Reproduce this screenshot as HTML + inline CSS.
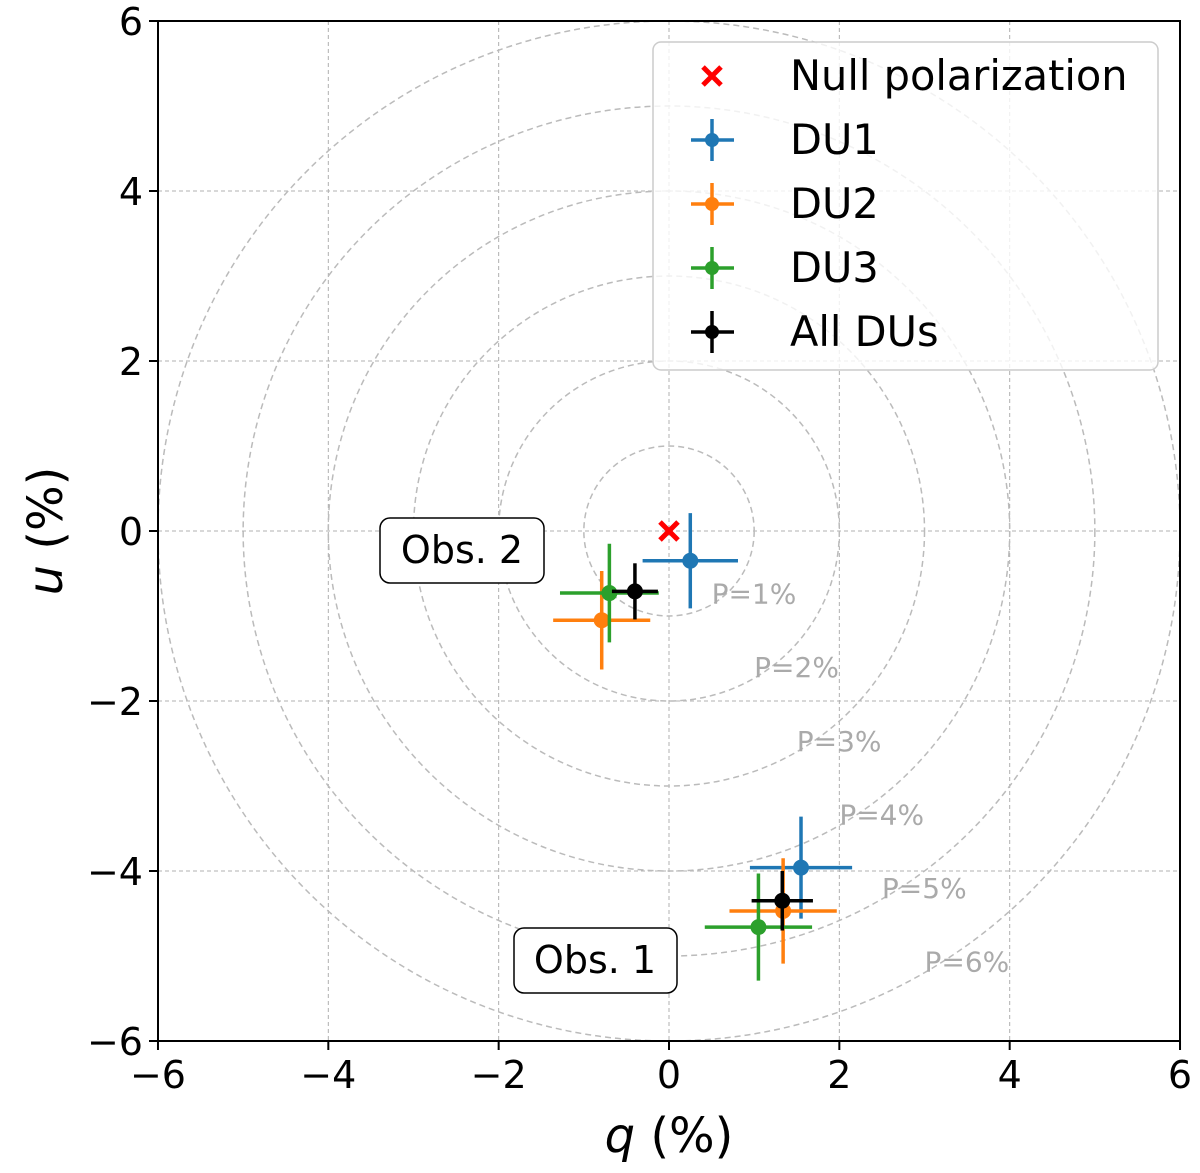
<!DOCTYPE html>
<html><head><meta charset="utf-8"><style>html,body{margin:0;padding:0;background:#fff}svg{display:block}text{font-family:"DejaVu Sans","Liberation Sans",sans-serif}</style></head>
<body>
<svg id="chart" width="1200" height="1173" viewBox="0 0 1200 1173" xmlns="http://www.w3.org/2000/svg">
<g id="grid"></g>
<g id="circles"></g>
<g id="marks"></g>
<rect x="158" y="21" width="1022" height="1020" fill="none" stroke="#000" stroke-width="2"/>
<g id="ticks"></g>
<text x="669" y="1152" font-size="48" text-anchor="middle"><tspan font-style="italic">q</tspan> (%)</text>
<text transform="translate(62,531) rotate(-90)" font-size="48" text-anchor="middle"><tspan font-style="italic">u</tspan> (%)</text>
<g><rect x="380" y="518" width="164" height="65" rx="10" fill="#fff" stroke="#000" stroke-width="1.5"/><text x="462" y="563" font-size="38" text-anchor="middle">Obs. 2</text></g>
<g><rect x="514" y="928" width="163" height="65" rx="10" fill="#fff" stroke="#000" stroke-width="1.5"/><text x="595" y="973" font-size="38" text-anchor="middle">Obs. 1</text></g>
<g id="legend"></g>
</svg>
<script>
const ticks=[-6,-4,-2,0,2,4,6];
const tickLabels=["\u22126","\u22124","\u22122","0","2","4","6"];
const radii=[1,2,3,4,5,6];
const seriesNames=["DU1","DU2","DU3","All DUs"];
const seriesColors=["#1f77b4","#ff7f0e","#2ca02c","#000000"];
const qVals=[[0.25,1.55],[-0.79,1.34],[-0.70,1.05],[-0.40,1.33]];
const uVals=[[-0.35,-3.96],[-1.05,-4.47],[-0.73,-4.66],[-0.71,-4.35]];
const qErr=[[0.56,0.60],[0.57,0.63],[0.58,0.63],[0.27,0.36]];
const uErr=[[0.56,0.60],[0.58,0.62],[0.58,0.63],[0.33,0.35]];
const NS="http://www.w3.org/2000/svg";
const X=v=>669+v*85.17, Y=v=>531-v*85;
function mk(p,t,a){const e=document.createElementNS(NS,t);for(const k in a)e.setAttribute(k,a[k]);p.appendChild(e);return e;}
const grid=document.getElementById('grid'),tk=document.getElementById('ticks');
ticks.forEach((t,i)=>{
 const gx=mk(grid,'line',{x1:X(t),x2:X(t),y1:21,y2:1041,stroke:'#b0b0b0','stroke-width':1,'stroke-dasharray':'4,3'});
 
 const gy=mk(grid,'line',{y1:Y(t),y2:Y(t),x1:158,x2:1180,stroke:'#b0b0b0','stroke-width':1,'stroke-dasharray':'4,3'});
 
 mk(tk,'line',{x1:X(t),x2:X(t),y1:1041,y2:1050,stroke:'#000','stroke-width':2});
 mk(tk,'line',{x1:149,x2:158,y1:Y(t),y2:Y(t),stroke:'#000','stroke-width':2});
 const xl=mk(tk,'text',{x:X(t),y:1088,'font-size':38,'text-anchor':'middle'});xl.textContent=tickLabels[i];
 
 const yl=mk(tk,'text',{x:143,y:Y(t)+14,'font-size':38,'text-anchor':'end'});yl.textContent=tickLabels[i];
 
});
const cg=document.getElementById('circles');
radii.forEach(r=>{
 const c=mk(cg,'ellipse',{cx:X(0),cy:Y(0),rx:r*85.17,ry:r*85,fill:'none',stroke:'#bbb','stroke-width':1.5,'stroke-dasharray':'6,4'});
 
 const t=mk(cg,'text',{x:X(0.5*r),y:Y(-0.866*r)-1,'font-size':28,fill:'#aaa'});t.textContent='P='+r+'%';
 
});
const mg=document.getElementById('marks');
function cross(p,x,y,s,col){mk(p,'line',{x1:x-s,y1:y-s,x2:x+s,y2:y+s,stroke:col,'stroke-width':5});mk(p,'line',{x1:x-s,y1:y+s,x2:x+s,y2:y-s,stroke:col,'stroke-width':5});}
const nx=mk(mg,'g',{});
cross(nx,X(0),Y(0),9,'#ff0000');
seriesNames.forEach((n,s)=>{
 qVals[s].forEach((q,j)=>{
  const u=uVals[s][j],col=seriesColors[s];
  const g=mk(mg,'g',{});
  mk(g,'line',{x1:X(q-qErr[s][j]),x2:X(q+qErr[s][j]),y1:Y(u),y2:Y(u),stroke:col,'stroke-width':3.5});
  mk(g,'line',{x1:X(q),x2:X(q),y1:Y(u-uErr[s][j]),y2:Y(u+uErr[s][j]),stroke:col,'stroke-width':3.5});
  mk(g,'circle',{cx:X(q),cy:Y(u),r:8,fill:col});
 });
});
const lg=document.getElementById('legend');
mk(lg,'rect',{x:653,y:42,width:505,height:328,rx:8,fill:'#fff','fill-opacity':0.8,stroke:'#ccc','stroke-width':1.5});
const e0=mk(lg,'g',{});
cross(e0,712,76,9,'#ff0000');
const t0=mk(e0,'text',{x:790,y:90,'font-size':41.5});t0.textContent='Null polarization';
seriesNames.forEach((n,s)=>{
 const y=140+s*64,col=seriesColors[s];
 const e=mk(lg,'g',{});
 mk(e,'line',{x1:691,x2:734,y1:y,y2:y,stroke:col,'stroke-width':3.5});
 mk(e,'line',{x1:712,x2:712,y1:y-21,y2:y+21,stroke:col,'stroke-width':3.5});
 mk(e,'circle',{cx:712,cy:y,r:7,fill:col});
 const t=mk(e,'text',{x:790,y:y+14,'font-size':41.5});t.textContent=n;
});
</script>
</body></html>
